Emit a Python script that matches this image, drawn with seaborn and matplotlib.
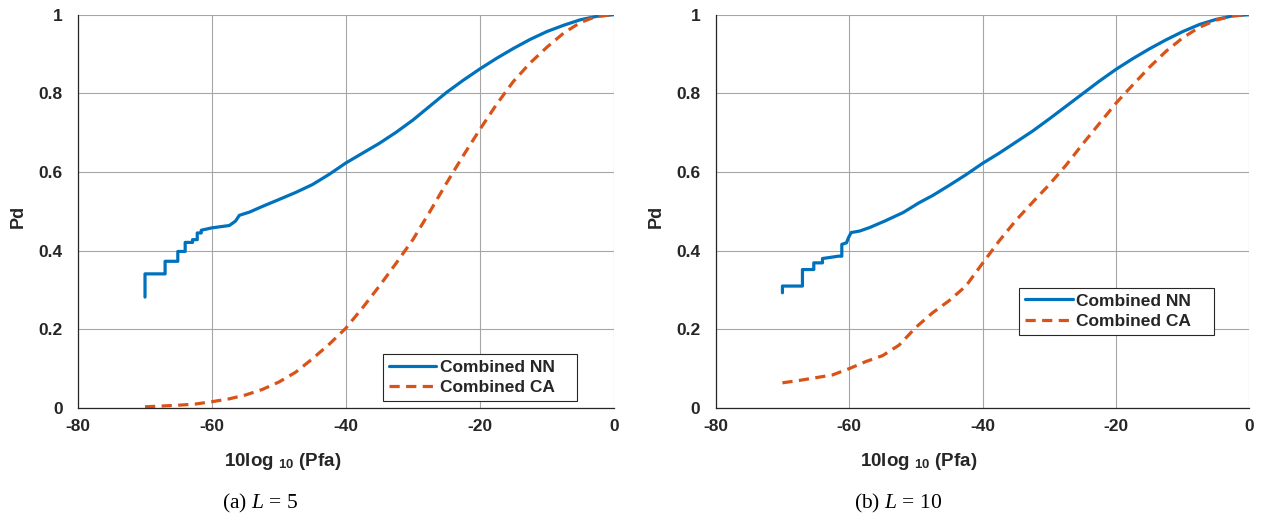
import matplotlib
matplotlib.use("Agg")
import matplotlib.pyplot as plt
import pandas as pd
import seaborn as sns

# ---- Pd versus 10log10(Pfa), L = 5 ----
nn5_x = [-70, -70, -67.0, -67.0, -65.1, -65.1, -64.0, -64.0, -62.9, -62.9, -62.2, -62.2,
         -61.6, -61.6, -60, -57.4, -56.5, -55.9, -54.4, -52.4, -50, -47.5, -45, -42.5, -40,
         -37.5, -35, -32.5, -30, -27.5, -25, -22.5, -20, -17.5, -15, -12.5, -10, -7.5, -5,
         -2.5, 0]
nn5_y = [0.282, 0.341, 0.341, 0.373, 0.373, 0.398, 0.398, 0.421, 0.421, 0.428, 0.428, 0.445,
         0.445, 0.452, 0.458, 0.464, 0.475, 0.490, 0.498, 0.513, 0.530, 0.548, 0.568, 0.594,
         0.623, 0.648, 0.673, 0.701, 0.732, 0.767, 0.802, 0.833, 0.862, 0.889, 0.914, 0.937,
         0.957, 0.973, 0.987, 0.996, 1.0]
ca5_x = [-70, -67.5, -65, -62.5, -60, -57.5, -55, -52.5, -50, -47.5, -45, -42.5, -40, -37.5,
         -35, -32.5, -30, -27.5, -25, -22.5, -20, -17.5, -15, -12.5, -10, -7.5, -5, -2.5, 0]
ca5_y = [0.003, 0.005, 0.007, 0.010, 0.016, 0.023, 0.033, 0.047, 0.066, 0.091, 0.125, 0.162,
         0.203, 0.255, 0.310, 0.368, 0.428, 0.498, 0.571, 0.641, 0.708, 0.772, 0.830, 0.877,
         0.917, 0.953, 0.980, 0.996, 1.0]

# ---- Pd versus 10log10(Pfa), L = 10 ----
nn10_x = [-70, -70, -67, -67, -65.3, -65.3, -64, -64, -61.6, -61.1, -61.1, -60.4, -60.1,
          -59.7, -58.4, -56.9, -54.7, -51.9, -49.5, -47.5, -45, -42.5, -40, -37.5, -35,
          -32.5, -30, -27.5, -25, -22.5, -20, -17.5, -15, -12.5, -10, -7.5, -5, -2.5, 0]
nn10_y = [0.293, 0.310, 0.310, 0.352, 0.352, 0.369, 0.369, 0.380, 0.386, 0.386, 0.416, 0.420,
          0.433, 0.446, 0.450, 0.459, 0.475, 0.497, 0.522, 0.540, 0.566, 0.593, 0.622, 0.648,
          0.676, 0.704, 0.735, 0.767, 0.799, 0.831, 0.861, 0.888, 0.913, 0.936, 0.957, 0.975,
          0.988, 0.997, 1.0]
ca10_x = [-70, -67.5, -65, -62.5, -60, -57.5, -55, -52.5, -50, -47.5, -45, -42.5, -40,
          -37.5, -35, -32.5, -30, -27.5, -25, -22.5, -20, -17.5, -15, -12.5, -10, -7.5, -5,
          -2.5, 0]
ca10_y = [0.064, 0.070, 0.077, 0.084, 0.100, 0.118, 0.133, 0.160, 0.205, 0.242, 0.273, 0.310,
          0.368, 0.425, 0.477, 0.523, 0.568, 0.617, 0.671, 0.723, 0.775, 0.821, 0.866, 0.907,
          0.941, 0.968, 0.986, 0.997, 1.0]

x_ticks = [-80, -60, -40, -20, 0]
x_tick_labels = ["-80", "-60", "-40", "-20", "0"]
y_ticks = [0, 0.2, 0.4, 0.6, 0.8, 1.0]
y_tick_labels = ["0", "0.2", "0.4", "0.6", "0.8", "1"]
series_names = ["Combined NN", "Combined CA"]
captions = [r"(a) $\mathit{L}$ = 5", r"(b) $\mathit{L}$ = 10"]

NN_COLOR = "#0072BD"
CA_COLOR = "#D95319"
AX_COLOR = "#262626"
DASHES = (3.2, 2.0)

sns.set_theme(style="whitegrid")
plt.rcParams["font.family"] = ["Liberation Sans", "DejaVu Sans"]
plt.rcParams.update({
    "mathtext.fontset": "custom",
    "mathtext.rm": "Liberation Sans",
    "mathtext.bf": "Liberation Sans:bold",
    "mathtext.it": "Liberation Serif:italic",
})

fig = plt.figure(figsize=(12.67, 5.19), dpi=100)
ax_a = fig.add_axes([0.0616, 0.2139, 0.4228, 0.7578])
ax_b = fig.add_axes([0.5649, 0.2139, 0.4212, 0.7578])

panels = [
    (ax_a, nn5_x, nn5_y, ca5_x, ca5_y, (0.569, 0.0178, 0.363, 0.123), 260),
    (ax_b, nn10_x, nn10_y, ca10_x, ca10_y, (0.569, 0.186, 0.365, 0.123), 898),
]

for i, (ax, nx, ny, cx, cy, leg_box, cap_x) in enumerate(panels):
    nn_df = pd.DataFrame({"pfa_db": nx, "pd": ny})
    ca_df = pd.DataFrame({"pfa_db": cx, "pd": cy})
    sns.lineplot(data=nn_df, x="pfa_db", y="pd", ax=ax, sort=False, estimator=None,
                 color=NN_COLOR, linewidth=2.3, label=series_names[0])
    sns.lineplot(data=ca_df, x="pfa_db", y="pd", ax=ax, sort=False, estimator=None,
                 color=CA_COLOR, linewidth=2.3, label=series_names[1])
    ax.lines[1].set_dashes(DASHES)

    ax.set_xlim(-80, 0)
    ax.set_ylim(0, 1)
    ax.set_xticks(x_ticks)
    ax.set_xticklabels(x_tick_labels, fontweight="bold", fontsize=12.5, color=AX_COLOR)
    ax.set_yticks(y_ticks)
    ax.set_yticklabels(y_tick_labels, fontweight="bold", fontsize=12.5, color=AX_COLOR)
    ax.tick_params(axis="both", direction="in", length=4, width=0.8, color=AX_COLOR)
    ax.tick_params(axis="x", pad=8)
    ax.tick_params(axis="y", pad=11)

    ax.grid(True, color="#a6a6a6", linewidth=0.8)
    ax.set_facecolor("white")
    for side in ("top", "right"):
        ax.spines[side].set_visible(False)
    for side in ("left", "bottom"):
        ax.spines[side].set_visible(True)
        ax.spines[side].set_color(AX_COLOR)
        ax.spines[side].set_linewidth(0.9)
        ax.spines[side].set_zorder(5)

    ax.set_xlabel(r"10log $_{\mathbf{10}}$ (Pfa)", fontweight="bold", fontsize=13.5,
                  color=AX_COLOR, va="center")
    ax.xaxis.set_label_coords(0.381, -0.135)
    ax.set_ylabel("Pd", fontweight="bold", fontsize=13, color=AX_COLOR, va="center")
    ax.yaxis.set_label_coords(-0.111, 0.487)

    leg = ax.legend(loc="lower left", bbox_to_anchor=leg_box, mode="expand",
                    borderaxespad=0, frameon=True, fancybox=False, edgecolor=AX_COLOR,
                    framealpha=1, handlelength=2.75, handletextpad=0.2, borderpad=0.34,
                    labelspacing=0.3, prop={"weight": "bold", "size": 12.5})
    leg.get_frame().set_linewidth(0.8)
    leg.get_lines()[1].set_dashes(DASHES)

    fig.text(cap_x / 1267, 1 - 503 / 519, captions[i], ha="center", va="center",
             family="Liberation Serif", fontsize=15.5, color="black")

fig.savefig("out.png", dpi=100)
